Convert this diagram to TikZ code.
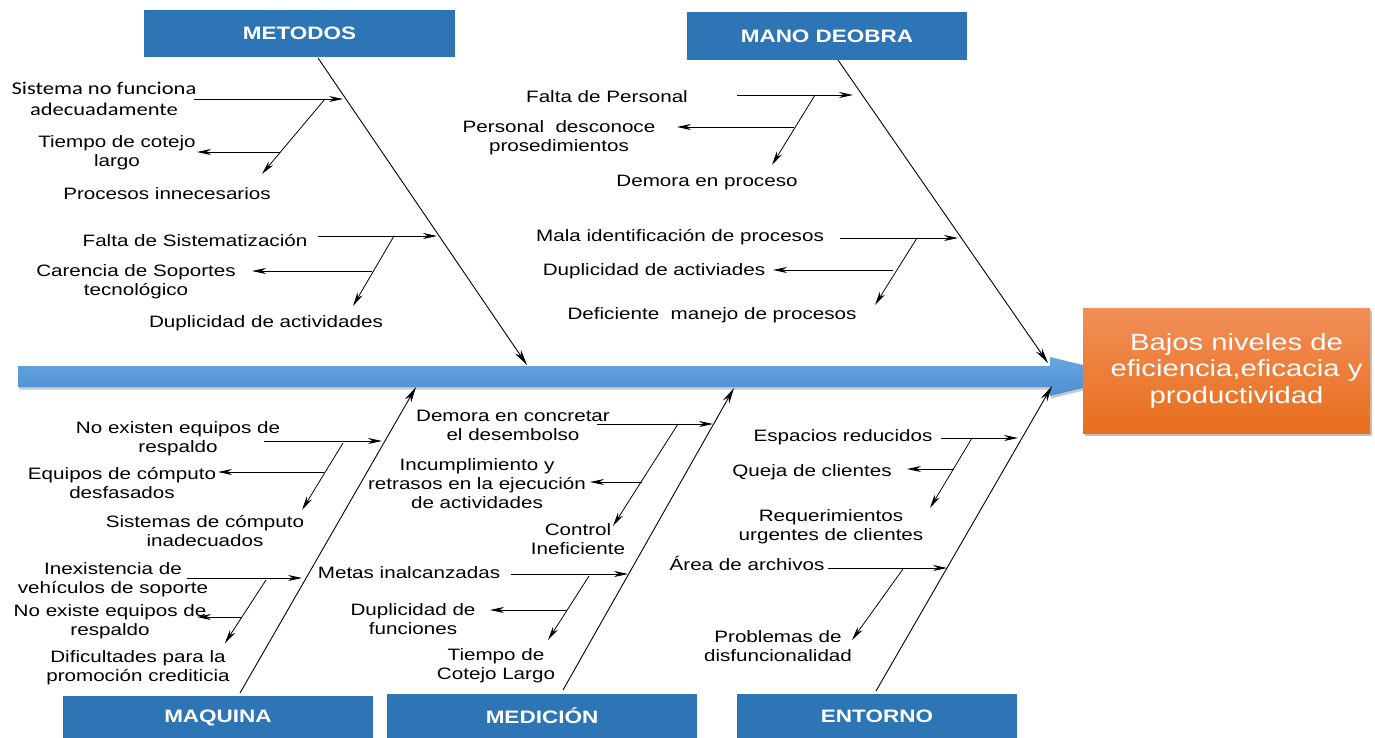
\documentclass[tikz,border=0pt]{standalone}
\usepackage{fontspec}
\setmainfont{Liberation Sans}[FakeStretch=1.25]
\newfontfamily\calfont{Carlito}[FakeStretch=1.25]
\usetikzlibrary{arrows.meta,shadows}

\definecolor{catblue}{RGB}{46,117,182}
\definecolor{spinetop}{RGB}{104,166,224}
\definecolor{spinebot}{RGB}{76,142,210}
\definecolor{efftop}{RGB}{241,143,88}
\definecolor{effbot}{RGB}{232,110,28}

\begin{document}
\begin{tikzpicture}[x=1pt,y=-1pt,
  catbox/.style={fill=catblue, text=white, inner sep=0pt,
    font=\bfseries\fontsize{18}{20}\selectfont},
  cause/.style={align=center, inner sep=0pt, font=\fontsize{16.5}{19}\selectfont},
  effbox/.style={top color=efftop, bottom color=effbot, text=white, align=center,
    inner sep=0pt, font=\fontsize{23.4}{26.5}\selectfont,
    drop shadow={shadow xshift=2pt, shadow yshift=-3pt, opacity=0.35, fill=black!70}},
  bone/.style={line width=0.9pt, -{Stealth[length=16pt,width=7pt,inset=5pt]}},
  sub/.style={line width=0.8pt, -{Stealth[length=14pt,width=6pt,inset=4.5pt]}},
]
\useasboundingbox (0,0) rectangle (1375,738);

% ---- spine with its arrow head ----
\path[top color=spinetop, bottom color=spinebot,
      drop shadow={shadow xshift=1pt, shadow yshift=-2.5pt, opacity=0.3, fill=black!70}]
  (18,366) -- (1050,366) -- (1050,357) -- (1130,376.5) -- (1050,396)
  -- (1050,387) -- (18,387) -- cycle;
\coordinate (sp1) at (527,365);
\coordinate (sp2) at (1048,363);
\coordinate (sp3) at (416,387);
\coordinate (sp4) at (734,388);
\coordinate (sp5) at (1052,386);

% ---- effect ----
\node[effbox, minimum width=287pt, minimum height=125pt] (efecto) at (1226.5,370.5)
  {\hspace*{20pt}Bajos niveles de\\\hspace*{20pt}eficiencia,eficacia y\\\hspace*{20pt}productividad};

% ---- categories ----
\node[catbox, minimum width=311pt, minimum height=47pt] (metodos) at (299.5,33.5) {METODOS};
\node[catbox, minimum width=280pt, minimum height=48pt] (manoobra) at (827,36) {MANO DEOBRA};
\node[catbox, minimum width=310pt, minimum height=44pt] (maquina) at (218,718) {MAQUINA};
\node[catbox, minimum width=310pt, minimum height=45pt] (medicion) at (542,716) {MEDICIÓN};
\node[catbox, minimum width=280pt, minimum height=45pt] (entorno) at (877,716) {ENTORNO};

\coordinate (f1) at (318,58);
\coordinate (f2) at (838,60);
\coordinate (f3) at (240,693);
\coordinate (f4) at (563,690);
\coordinate (f5) at (876,691);

\draw[bone] (f1) -- (sp1);
\draw[bone] (f2) -- (sp2);
\draw[bone] (f3) -- (sp3);
\draw[bone] (f4) -- (sp4);
\draw[bone] (f5) -- (sp5);

% ---- METODOS ----
\node[cause, font=\calfont\fontsize{18}{21}\selectfont] (t11) at (104,98.5) {Sistema no funciona\\adecuadamente};
\node[cause] (t12) at (117,153) {Tiempo de cotejo\\largo};
\node[cause] (t13) at (167,194) {Procesos innecesarios};
\node[cause] (t14) at (195,241) {Falta de Sistematización};
\node[cause] (t15) at (136,282) {Carencia de Soportes\\tecnológico};
\node[cause] (t16) at (266,323) {Duplicidad de actividades};

\coordinate (c11) at (194,99);  \coordinate (b11) at (343,99);
\coordinate (j11) at (325,99);  \coordinate (e13) at (262,174);
\coordinate (j12) at (280,152); \coordinate (e12) at (197,152);
\coordinate (c14) at (318,236); \coordinate (b14) at (437,236);
\coordinate (j14) at (394,236); \coordinate (e16) at (353,306);
\coordinate (j15) at (372,271); \coordinate (e15) at (252,271);
\draw[sub] (c11) -- (b11);
\draw[sub] (j11) -- (e13);
\draw[sub] (j12) -- (e12);
\draw[sub] (c14) -- (b14);
\draw[sub] (j14) -- (e16);
\draw[sub] (j15) -- (e15);

% ---- MANO DE OBRA ----
\node[cause] (t21) at (607,97) {Falta de Personal};
\node[cause] (t22) at (559,138) {Personal~ desconoce\\prosedimientos};
\node[cause] (t23) at (707,183) {Demora en proceso};
\node[cause] (t24) at (680,237) {Mala identificación de procesos};
\node[cause] (t25) at (654,271) {Duplicidad de activiades};
\node[cause] (t26) at (712,315) {Deficiente~ manejo de procesos};

\coordinate (c21) at (737,95);  \coordinate (b21) at (853,95);
\coordinate (j21) at (815,95);  \coordinate (e23) at (772,165);
\coordinate (j22) at (794,127); \coordinate (e22) at (677,127);
\coordinate (c24) at (840,238); \coordinate (b24) at (958,238);
\coordinate (j24) at (917,238); \coordinate (e26) at (875,305);
\coordinate (j25) at (893,270); \coordinate (e25) at (773,270);
\draw[sub] (c21) -- (b21);
\draw[sub] (j21) -- (e23);
\draw[sub] (j22) -- (e22);
\draw[sub] (c24) -- (b24);
\draw[sub] (j24) -- (e26);
\draw[sub] (j25) -- (e25);

% ---- MAQUINA ----
\node[cause] (t31) at (178,438.5) {No existen equipos de\\respaldo};
\node[cause] (t32) at (122,483.5) {Equipos de cómputo\\desfasados};
\node[cause] (t33) at (205,531.5) {Sistemas de cómputo\\inadecuados};
\node[cause] (t34) at (113,579.5) {Inexistencia de\\vehículos de soporte};
\node[cause] (t35) at (110,621.5) {No existe equipos de\\respaldo};
\node[cause] (t36) at (138,668) {Dificultades para la\\promoción crediticia};

\coordinate (c31) at (264,441); \coordinate (b31) at (382,441);
\coordinate (j31) at (343,443); \coordinate (e33) at (302,510);
\coordinate (j32) at (324,472); \coordinate (e32) at (218,472);
\coordinate (c34) at (187,578); \coordinate (b34) at (302,578);
\coordinate (j34) at (266,580); \coordinate (e36) at (225,643);
\coordinate (j35) at (242,617); \coordinate (e35) at (197,617);
\draw[sub] (c31) -- (b31);
\draw[sub] (j31) -- (e33);
\draw[sub] (j32) -- (e32);
\draw[sub] (c34) -- (b34);
\draw[sub] (j34) -- (e36);
\draw[sub] (j35) -- (e35);

% ---- MEDICIÓN ----
\node[cause] (t41) at (513,425) {Demora en concretar\\el desembolso};
\node[cause] (t42) at (477,484) {Incumplimiento y\\retrasos en la ejecución\\de actividades};
\node[cause] (t43) at (578,539.5) {Control\\Ineficiente};
\node[cause] (t44) at (409,573) {Metas inalcanzadas};
\node[cause] (t45) at (413,619) {Duplicidad de\\funciones};
\node[cause] (t46) at (496,665.5) {Tiempo de\\Cotejo Largo};

\coordinate (c41) at (597,424); \coordinate (b41) at (713,424);
\coordinate (j41) at (678,424); \coordinate (e43) at (613,526);
\coordinate (j42) at (642,482); \coordinate (e42) at (590,482);
\coordinate (c44) at (511,574); \coordinate (b44) at (628,574);
\coordinate (j44) at (589,576); \coordinate (e46) at (548,640);
\coordinate (j45) at (567,610); \coordinate (e45) at (490,610);
\draw[sub] (c41) -- (b41);
\draw[sub] (j41) -- (e43);
\draw[sub] (j42) -- (e42);
\draw[sub] (c44) -- (b44);
\draw[sub] (j44) -- (e46);
\draw[sub] (j45) -- (e45);

% ---- ENTORNO ----
\node[cause] (t51) at (843,437) {Espacios reducidos};
\node[cause] (t52) at (812,472) {Queja de clientes};
\node[cause] (t53) at (831,526.5) {Requerimientos\\urgentes de clientes};
\node[cause] (t54) at (747,563) {Área de archivos};
\node[cause] (t55) at (778,646.5) {Problemas de\\disfuncionalidad};

\coordinate (c51) at (941,438); \coordinate (b51) at (1018,438);
\coordinate (j51) at (972,438); \coordinate (e53) at (930,508);
\coordinate (j52) at (954,469); \coordinate (e52) at (907,469);
\coordinate (c54) at (828,568); \coordinate (b54) at (947,568);
\coordinate (j54) at (903,569); \coordinate (e55) at (852,640);
\draw[sub] (c51) -- (b51);
\draw[sub] (j51) -- (e53);
\draw[sub] (j52) -- (e52);
\draw[sub] (c54) -- (b54);
\draw[sub] (j54) -- (e55);
\end{tikzpicture}
\end{document}
